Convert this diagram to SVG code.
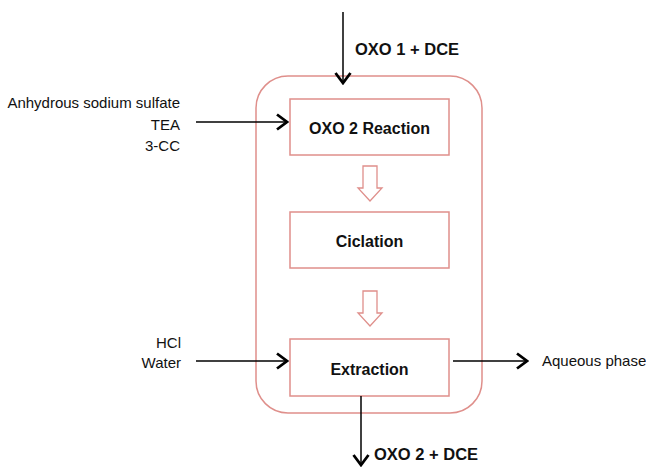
<svg xmlns="http://www.w3.org/2000/svg" width="646" height="467" viewBox="0 0 646 467">
<defs>
<marker id="chev" viewBox="0 0 13 18" refX="11.5" refY="9" markerWidth="13" markerHeight="18" markerUnits="userSpaceOnUse" orient="auto">
<path d="M1.5,1.5 L11.5,9 L1.5,16.5" fill="none" stroke="#000" stroke-width="2.8"/>
</marker>
<style>
.box{fill:#fff;stroke:#df8f8b;stroke-width:1.5}
.hollow{fill:#fff;stroke:#df8f8b;stroke-width:1.3}
.lbl{font-family:"Liberation Sans",Arial,sans-serif;font-weight:bold;font-size:16px;fill:#111;text-anchor:middle}
.t{font-family:"Liberation Sans",Arial,sans-serif;font-size:15px;fill:#111}
.tb{font-family:"Liberation Sans",Arial,sans-serif;font-weight:bold;font-size:16.5px;fill:#111}
.con{stroke:#000;stroke-width:1.5;fill:none;marker-end:url(#chev)}
</style>
</defs>
<rect width="646" height="467" fill="#fff"/>
<g id="container">
<rect x="256" y="76" width="226" height="337" rx="32" ry="32" fill="none" stroke="#df8f8b" stroke-width="1.5"/>
</g>
<g id="reaction">
<rect class="box" x="290" y="99" width="159" height="56"/>
<text class="lbl" x="369.5" y="134">OXO 2 Reaction</text>
</g>
<g id="ciclation">
<rect class="box" x="290" y="212" width="159" height="56"/>
<text class="lbl" x="369.5" y="247">Ciclation</text>
</g>
<g id="extraction">
<rect class="box" x="290" y="339" width="159" height="57"/>
<text class="lbl" x="369.5" y="375">Extraction</text>
</g>
<g id="flow-arrows">
<path class="hollow" d="M363,166 H377 V188 H382 L370,201 L358,188 H363 Z"/>
<path class="hollow" d="M363,291 H377 V313 H382 L370,326 L358,313 H363 Z"/>
</g>
<g id="inputs-top">
<text class="tb" x="355" y="55">OXO 1 + DCE</text>
</g>
<g id="inputs-left">
<text class="t" x="180" y="108" text-anchor="end">Anhydrous sodium sulfate</text>
<text class="t" x="180" y="130" text-anchor="end">TEA</text>
<text class="t" x="180" y="151" text-anchor="end">3-CC</text>
</g>
<g id="inputs-left2">
<text class="t" x="181" y="348" text-anchor="end">HCl</text>
<text class="t" x="181" y="368" text-anchor="end">Water</text>
</g>
<g id="output-aqueous">
<text class="t" x="542" y="366">Aqueous phase</text>
</g>
<g id="output-bottom">
<text class="tb" x="374" y="460">OXO 2 + DCE</text>
</g>
<g id="connectors">
<line class="con" x1="343" y1="12" x2="343" y2="83"/>
<line class="con" x1="196" y1="122" x2="287" y2="122"/>
<line class="con" x1="196" y1="361" x2="287" y2="361"/>
<line class="con" x1="453" y1="361" x2="527" y2="361"/>
<line class="con" x1="361" y1="396" x2="361" y2="465"/>
</g>
</svg>
